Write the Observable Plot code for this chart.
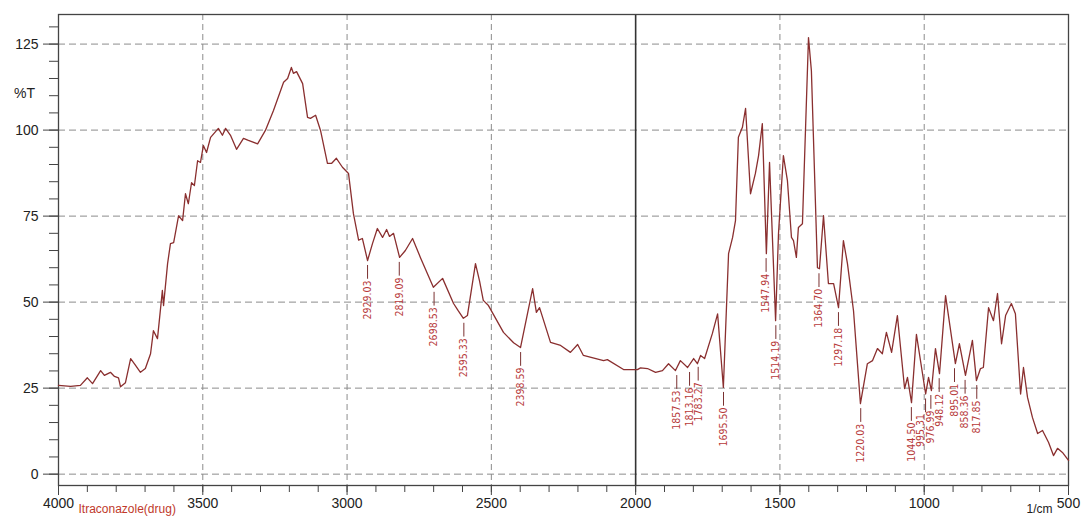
<!DOCTYPE html>
<html>
<head>
<meta charset="utf-8">
<script src="https://cdn.jsdelivr.net/npm/d3@7"></script>
<script src="https://cdn.jsdelivr.net/npm/@observablehq/plot@0.6"></script>
<style>
  html, body { margin: 0; padding: 0; background: #fff; overflow: hidden; }
  #chart svg { display: block; overflow: visible; }
</style>
</head>
<body>
<div id="chart"></div>
<script>
const wavenumber = [
  4000, 3958, 3924, 3900, 3882, 3854, 3841, 3820, 3806, 3792, 3785, 3768, 3750, 3733, 3716, 3699,
  3681, 3671, 3657, 3640, 3636, 3622, 3612, 3601, 3584, 3570, 3560, 3550, 3539, 3529, 3518, 3508,
  3498, 3487, 3473, 3446, 3432, 3421, 3404, 3383, 3359, 3342, 3310, 3283, 3255, 3220, 3206, 3193,
  3186, 3175, 3154, 3137, 3127, 3109, 3092, 3068, 3054, 3037, 3016, 2995, 2978, 2960, 2947, 2929,
  2912, 2895, 2877, 2863, 2853, 2839, 2818, 2798, 2773, 2746, 2701, 2669, 2631, 2615, 2597, 2583,
  2555, 2541, 2528, 2510, 2458, 2423, 2399, 2357, 2344, 2333, 2295, 2260, 2226, 2201, 2181, 2111,
  2098, 2042, 1994, 1983, 1959, 1931, 1907, 1886, 1862, 1845, 1820, 1799, 1786, 1775, 1761, 1734,
  1716, 1696, 1678, 1664, 1654, 1644, 1630, 1619, 1602, 1585, 1574, 1561, 1547, 1536, 1515, 1505,
  1488, 1474, 1460, 1453, 1443, 1436, 1422, 1401, 1391, 1370, 1363, 1349, 1332, 1314, 1297, 1280,
  1266, 1245, 1221, 1197, 1179, 1162, 1145, 1131, 1113, 1093, 1068, 1058, 1044, 1027, 995, 985,
  975, 961, 947, 926, 892, 878, 857, 833, 819, 805, 795, 777, 760, 746, 732, 718,
  698, 684, 666, 656, 642, 625, 607, 590, 569, 552, 538, 521, 500
];
// Transmittance (%T) at each of those wavenumbers
const transmittance = [
  25.8, 25.5, 25.8, 28.0, 26.3, 30.1, 28.7, 29.6, 28.4, 28.0, 25.4, 26.6, 33.6, 31.6, 29.6, 30.7,
  35.0, 41.7, 39.4, 53.4, 49.0, 61.2, 67.0, 67.3, 75.1, 73.7, 81.5, 78.6, 84.7, 83.9, 91.1, 90.6,
  95.5, 93.5, 97.9, 100.5, 98.5, 100.5, 98.5, 94.4, 97.6, 97.0, 96.0, 99.9, 105.7, 113.9, 115.0, 118.2,
  116.5, 117.0, 113.5, 103.7, 103.4, 104.3, 99.9, 90.3, 90.3, 91.8, 89.2, 87.4, 75.7, 68.0, 68.5, 62.1,
  67.0, 71.4, 68.8, 71.1, 69.1, 70.0, 63.0, 65.0, 68.5, 63.0, 54.3, 56.9, 49.6, 47.5, 45.3, 46.1,
  61.2, 56.2, 50.5, 49.0, 41.2, 38.2, 36.8, 53.9, 47.0, 48.4, 38.3, 37.4, 35.4, 37.7, 34.5, 33.0,
  33.3, 30.4, 30.4, 30.9, 30.7, 29.6, 30.1, 32.1, 30.1, 33.0, 31.0, 33.6, 32.1, 34.5, 33.6, 40.9,
  46.6, 25.2, 64.1, 68.8, 73.7, 97.9, 100.8, 106.3, 81.5, 87.4, 92.6, 101.9, 64.1, 90.6, 44.6, 69.9,
  92.6, 85.3, 68.8, 67.9, 63.0, 71.7, 72.8, 126.9, 117.3, 60.0, 59.7, 75.1, 55.4, 55.4, 48.4, 67.9,
  61.2, 47.5, 20.5, 32.1, 33.0, 36.5, 35.0, 41.2, 35.4, 46.1, 24.9, 28.1, 20.8, 40.6, 23.3, 28.1,
  24.3, 36.5, 29.2, 51.9, 32.1, 37.9, 28.7, 38.9, 27.2, 30.7, 31.0, 48.4, 44.6, 52.5, 37.9, 46.1,
  49.6, 46.6, 23.3, 31.0, 22.3, 16.5, 11.8, 12.7, 9.2, 5.4, 7.5, 6.3, 4.0
];

// Peak annotations: label text, its wavenumber, and %T of the curve at that minimum
const peakLabels = ["2929.03", "2819.09", "2698.53", "2595.33", "2398.59", "1857.53", "1813.16", "1783.27",
  "1695.50", "1547.94", "1514.19", "1364.70", "1297.18", "1220.03", "1044.50", "995.31", "976.99",
  "948.12", "895.01", "858.36", "817.85"];
const peakWavenumber = [2929.03, 2819.09, 2698.53, 2595.33, 2398.59, 1857.53, 1813.16, 1783.27,
  1695.50, 1547.94, 1514.19, 1364.70, 1297.18, 1220.03, 1044.50, 995.31, 976.99,
  948.12, 895.01, 858.36, 817.85];
const peakT = [62.1, 63.0, 54.3, 45.3, 36.8, 30.1, 31.0, 32.5,
  25.2, 64.1, 44.6, 59.7, 48.4, 20.5, 20.8, 23.3, 24.3,
  29.2, 32.1, 28.7, 27.2];

// Axis ticks
const xMajorTicks = [4000, 3500, 3000, 2500, 2000, 1500, 1000, 500];
const xMinorTicks = d3.range(4000, 499, -100);
const xGridLines = [3500, 3000, 2500, 1500, 1000];
const yMajorTicks = [0, 25, 50, 75, 100, 125];
const yMinorTicks = d3.range(0, 131, 5);

const spectrum = wavenumber.map((w, i) => ({w, t: transmittance[i]}));
const peaks = peakLabels.map((label, i) => ({label, w: peakWavenumber[i], t: peakT[i]}));

const narrow = "'Liberation Sans Narrow', 'DejaVu Sans Condensed', 'Arial Narrow', sans-serif";
const labelColor = "#b73a3a";

const chart = Plot.plot({
  width: 1081,
  height: 520,
  marginLeft: 58,
  marginRight: 13,
  marginTop: 14,
  marginBottom: 35,
  x: {domain: [4000, 500]},
  y: {domain: [-3.3, 133.6]},
  style: {fontFamily: "'Liberation Sans', Arial, sans-serif", fontSize: "14px", color: "#222", background: "#fff"},
  marks: [
    Plot.gridY(yMajorTicks, {stroke: "#8c8c8c", strokeOpacity: 1, strokeDasharray: "7,4"}),
    Plot.gridX(xGridLines, {stroke: "#8c8c8c", strokeOpacity: 1, strokeDasharray: "6,4"}),
    Plot.ruleX([2000], {stroke: "#333", strokeWidth: 1.6}),
    Plot.frame({stroke: "#444", strokeWidth: 1.3}),
    Plot.axisY(yMinorTicks, {tickSize: 9, tickFormat: () => "", label: null, stroke: "#444"}),
    Plot.axisY(yMajorTicks, {tickSize: 15, tickPadding: 5, label: null, stroke: "#444", fontSize: 14}),
    Plot.axisX(xMinorTicks, {tickSize: 7, tickFormat: () => "", label: null, stroke: "#444"}),
    Plot.axisX(xMajorTicks, {tickSize: 10, tickPadding: 3, label: null, stroke: "#444", fontSize: 14, tickFormat: d => String(d)}),
    Plot.line(spectrum, {x: "w", y: "t", stroke: "#8a2f2f", strokeWidth: 1.3, strokeLinejoin: "round"}),
    Plot.ruleX(peaks, {x: "w", y1: "t", y2: d => d.t - 4, dy: 5, stroke: "#7a3030", strokeWidth: 1}),
    Plot.text(peaks, {filter: d => d.label !== "995.31", x: "w", y: "t", dy: 20, text: "label", rotate: -90,
      textAnchor: "end", fill: labelColor, fontSize: 10.5, fontFamily: narrow}),
    Plot.text(peaks, {filter: d => d.label === "995.31", x: "w", y: "t", dy: 20, dx: -5, text: "label", rotate: -90,
      textAnchor: "end", fill: labelColor, fontSize: 10.5, fontFamily: narrow}),
    Plot.text(["%T"], {frameAnchor: "top-left", dx: -34, dy: 73.5, text: d => d, textAnchor: "middle", fontSize: 14, fill: "#222"}),
    Plot.text(["1/cm"], {frameAnchor: "bottom-right", dx: -16, dy: 27.5, text: d => d, textAnchor: "end", fontSize: 12, fill: "#222"}),
    Plot.text(["Itraconazole(drug)"], {frameAnchor: "bottom-left", dx: 20, dy: 27.5, text: d => d, textAnchor: "start", fontSize: 12, fill: "#c0392b"})
  ]
});
document.getElementById("chart").appendChild(chart);
</script>
</body>
</html>
